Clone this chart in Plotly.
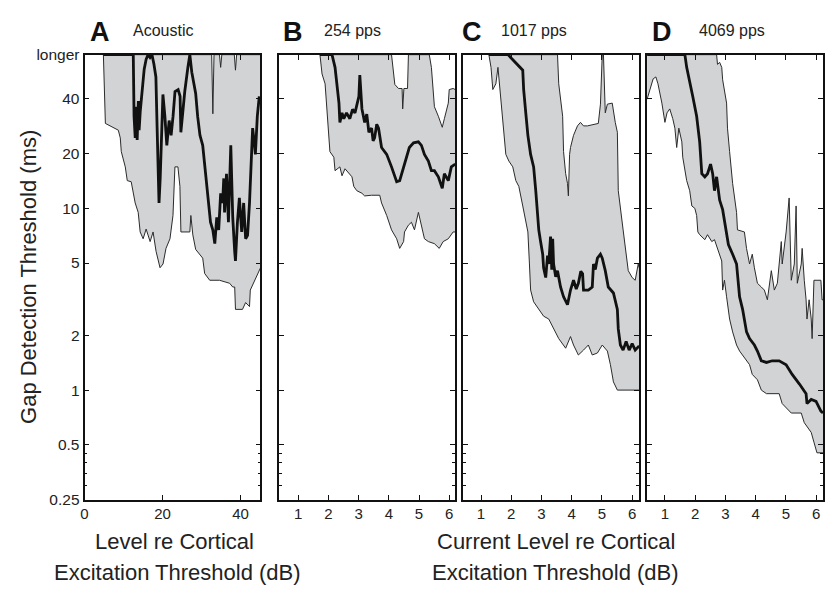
import plotly.graph_objects as go

# ---------------- data (gap detection threshold, ms; "longer" plotted at 70) ----------------
Y_TICKVALS = [0.25, 0.5, 1, 2, 5, 10, 20, 40, 70]
Y_TICKTEXT = ["0.25", "0.5", "1", "2", "5", "10", "20", "40", "longer"]
Y_MINOR = [0.3, 0.35, 0.4, 0.45]

# Panel A: Acoustic (dB re cortical excitation threshold)
A_lower_x = [4.84, 5.35, 8.66, 9.17, 9.43, 10.45, 10.96, 11.97, 12.99, 13.76, 14.27, 15.03, 15.80, 16.82,
             17.58, 18.34, 19.36, 20.13, 20.89, 21.91, 22.68, 23.18, 23.95, 24.46, 24.71, 27.0, 27.26, 27.77,
             28.5, 30.3, 30.8, 32.1, 34.6, 37.2, 38.0, 38.5, 38.7, 40.5, 41.3, 42.3, 42.5, 43.6, 44.8, 45.1]
A_lower_y = [70, 29.3, 26.9, 24.4, 20.5, 16.9, 14.2, 14.0, 10.7, 9.5, 7.41, 6.8, 7.69, 6.56,
             7.41, 5.80, 4.71, 4.94, 6.02, 6.8, 9.13, 16.9, 16.9, 13.2, 7.41, 7.41, 9.13, 7.14,
             5.94, 5.32, 4.38, 4.02, 4.02, 3.87, 3.69, 3.69, 2.78, 2.78, 3.03, 2.88, 3.55, 4.02, 4.65, 4.7]
A_upper_x = [4.84, 32.6, 32.9, 33.2, 34.6, 34.9, 35.2, 38.4, 38.7, 39.0, 45.1]
A_upper_y = [70, 70, 33.1, 70, 70, 59.6, 70, 70, 57.5, 70, 70]
A_med_x = [4.84, 12.5, 12.7, 13.0, 13.2, 13.5, 13.8, 14.0, 14.3, 14.8, 15.3, 15.8, 16.3, 16.8, 17.3, 17.8,
           18.3, 18.6, 18.9, 19.1, 19.4, 19.9, 20.1, 20.6, 21.1, 21.7, 22.2, 22.7, 23.2, 24.0, 24.5, 24.7,
           25.2, 25.7, 26.5, 27.0, 27.5, 28.0, 28.5, 29.0, 29.6, 30.3, 30.8, 31.3, 31.8, 32.3, 32.9, 33.4,
           33.9, 34.4, 34.9, 35.4, 35.7, 35.9, 36.4, 36.9, 37.5, 38.0, 38.5, 38.7, 39.2, 39.7, 40.3, 40.8,
           41.3, 41.8, 42.3, 42.8, 43.1, 43.6, 43.8, 44.3, 44.8]
A_med_y = [70, 70, 32.1, 24.4, 36.2, 23.8, 38.9, 26.9, 34.4, 46.7, 58.2, 66, 70, 67.5, 70, 62,
           52.8, 28.4, 17.5, 10.7, 14.6, 28.4, 42.3, 32.1, 22.2, 30.4, 25.2, 32.1, 43.9, 45.0, 41.3, 26.2,
           34.4, 43.9, 59.6, 70, 56.1, 49.6, 42.8, 32.1, 25.2, 22.2, 17.5, 12.9, 10.0, 8.38, 7.6, 6.4,
           8.91, 7.6, 12.1, 10.7, 14.6, 9.5, 15.5, 8.38, 22.2, 8.91, 5.80, 5.13, 8.38, 11.4, 7.41, 10.7,
           6.8, 7.1, 10.7, 19.8, 27.6, 22.2, 19.8, 32.1, 41.3]

# Panel B: 254 pps (current level, dB)
B_lower_x = [1.72, 1.79, 1.89, 2.05, 2.18, 2.22, 2.38, 2.45, 2.55, 2.78, 2.84, 2.94, 3.11, 3.20, 3.43, 3.70,
             3.76, 3.93, 4.09, 4.26, 4.36, 4.49, 4.52, 4.65, 4.75, 4.85, 4.98, 5.08, 5.18, 5.31, 5.51, 5.67,
             5.80, 5.97, 6.13, 6.20]
B_lower_y = [70, 54.8, 48.4, 20.5, 19.1, 16.1, 16.9, 15.1, 16.5, 14.9, 13.2, 12.5, 12.1, 11.7, 11.8, 11.8,
             10.7, 9.13, 7.61, 6.8, 6.02, 6.56, 7.41, 8.08, 8.38, 7.61, 9.5, 8.08, 6.8, 6.56, 6.39, 6.02,
             6.56, 6.8, 7.41, 7.41]
B_upper_x = [1.72, 4.09, 4.20, 4.32, 4.44, 4.46, 4.50, 4.62, 4.65, 5.34, 5.41, 5.51, 5.64, 5.77, 5.84, 5.97,
             6.00, 6.13, 6.20]
B_upper_y = [70, 70, 48, 45.6, 45.6, 35.2, 45.6, 45.6, 70, 70, 59.6, 36.2, 32.1, 27.9, 31.1, 37.9,
             45.0, 45.6, 45.0]
B_med_x = [1.72, 2.12, 2.22, 2.35, 2.38, 2.45, 2.51, 2.60, 2.71, 2.80, 2.88, 3.01, 3.04, 3.11, 3.20, 3.27,
           3.34, 3.43, 3.48, 3.53, 3.60, 3.66, 3.76, 3.93, 4.09, 4.26, 4.36, 4.52, 4.68, 4.82, 4.98, 5.08,
           5.18, 5.31, 5.41, 5.51, 5.64, 5.77, 5.84, 5.97, 6.07, 6.20]
B_med_y = [70, 70, 59.6, 37.9, 29.7, 33.5, 31.1, 33.5, 31.1, 35.0, 33.5, 41.3, 54.0, 35.2, 29.7, 33.0,
           26.2, 27.6, 23.5, 24.4, 29.0, 27.6, 21.6, 19.8, 16.9, 14.0, 14.2, 17.5, 21.6, 22.9, 23.2, 22.2,
           19.8, 18.2, 16.1, 16.1, 14.9, 12.9, 15.5, 14.2, 16.9, 17.5]

# Panel C: 1017 pps
C_lower_x = [1.26, 1.33, 1.39, 1.49, 1.56, 1.59, 1.66, 1.72, 1.82, 1.92, 2.05, 2.15, 2.25, 2.38, 2.48, 2.55,
             2.60, 2.64, 2.74, 2.91, 3.07, 3.24, 3.40, 3.57, 3.80, 3.96, 4.06, 4.22, 4.39, 4.55, 4.68, 4.85,
             5.01, 5.18, 5.28, 5.38, 5.51, 6.23]
C_lower_y = [70, 59.6, 45.0, 48.4, 59.6, 52.8, 39.8, 29.7, 19.8, 18.2, 16.9, 14.2, 13.2, 10.3, 8.70, 7.41,
             5.0, 3.55, 3.06, 2.78, 2.55, 2.46, 2.17, 1.92, 1.70, 1.97, 1.77, 1.56, 1.66, 1.77, 1.56, 1.60,
             1.77, 1.64, 1.38, 1.11, 1.00, 1.00]
C_upper_x = [1.26, 3.53, 3.57, 3.70, 3.73, 3.80, 3.86, 3.89, 3.93, 3.96, 4.06, 4.19, 4.29, 4.39, 4.52, 4.88,
             4.95, 5.01, 5.05, 5.11, 5.18, 5.34, 5.44, 5.51, 5.54, 5.67, 5.70, 5.87, 6.00, 6.10, 6.20, 6.23]
C_upper_y = [70, 70, 48.4, 32.1, 20.5, 15.5, 13.7, 11.7, 19.8, 21.6, 25.2, 28.4, 29.7, 28.4, 28.4, 29.3,
             37.4, 70, 70, 33.5, 37.4, 37.9, 29.7, 26.2, 12.5, 8.08, 7.61, 4.54, 4.16, 4.02, 4.94, 4.71]
C_med_x = [1.26, 1.89, 2.38, 2.41, 2.48, 2.55, 2.64, 2.74, 2.81, 2.88, 2.91, 2.97, 3.04, 3.07, 3.14, 3.20,
           3.24, 3.30, 3.34, 3.37, 3.40, 3.47, 3.53, 3.63, 3.73, 3.86, 3.96, 4.06, 4.15, 4.22, 4.30, 4.36,
           4.39, 4.55, 4.68, 4.72, 4.78, 4.85, 4.95, 5.01, 5.11, 5.21, 5.38, 5.51, 5.54, 5.61, 5.70, 5.80,
           5.90, 6.00, 6.10, 6.23]
C_med_y = [70, 70, 57.5, 45.0, 33.5, 25.2, 19.8, 16.9, 12.5, 9.13, 7.61, 6.56, 5.59, 4.71, 4.16, 5.5,
           4.94, 7.0, 4.6, 6.8, 4.94, 4.2, 4.54, 3.69, 3.26, 2.95, 3.55, 4.02, 3.6, 3.87, 4.5, 4.37,
           3.55, 3.55, 3.69, 4.94, 4.6, 5.32, 5.59, 5.32, 4.54, 3.69, 3.42, 2.78, 2.17, 1.77, 1.66, 1.85,
           1.66, 1.80, 1.66, 1.75]

# Panel D: 4069 pps
D_lower_x = [0.41, 0.51, 0.61, 0.70, 0.77, 0.90, 1.00, 1.07, 1.16, 1.26, 1.33, 1.39, 1.46, 1.56, 1.59, 1.72,
             1.82, 1.89, 1.99, 2.05, 2.09, 2.15, 2.32, 2.41, 2.55, 2.64, 2.74, 2.88, 2.91, 2.97, 3.04, 3.14,
             3.24, 3.37, 3.47, 3.63, 3.80, 3.89, 4.06, 4.19, 4.36, 4.78, 4.88, 5.18, 5.51, 5.61, 5.84, 5.93,
             6.03, 6.23]
D_lower_y = [39.8, 45.0, 51.5, 52.8, 48.4, 37.9, 29.7, 33.5, 35.2, 31.1, 27.6, 21.6, 27.6, 23.2, 19.1, 14.2,
             12.5, 10.3, 10.0, 9.13, 7.41, 7.16, 6.72, 7.16, 6.56, 6.72, 6.02, 5.13, 3.55, 4.02, 3.26, 2.46,
             2.09, 1.77, 1.64, 1.50, 1.38, 1.22, 1.14, 1.00, 0.956, 0.956, 0.843, 0.748, 0.748, 0.662, 0.585, 0.517,
             0.452, 0.452]
D_upper_x = [0.41, 2.71, 2.74, 2.81, 2.88, 2.91, 3.04, 3.07, 3.14, 3.24, 3.37, 3.40, 3.63, 3.70, 3.80, 3.89,
             3.96, 4.06, 4.19, 4.29, 4.39, 4.52, 4.62, 4.72, 4.85, 4.88, 5.01, 5.11, 5.18, 5.28, 5.34, 5.38,
             5.51, 5.54, 5.61, 5.67, 5.70, 5.77, 5.84, 5.87, 5.93, 6.16, 6.20, 6.23]
D_upper_y = [70, 70, 61.9, 63.5, 59.6, 50.9, 37.9, 27.6, 20.5, 13.7, 9.5, 7.61, 7.41, 6.02, 4.94, 5.59,
             4.71, 3.87, 3.69, 3.55, 3.14, 4.54, 3.55, 3.87, 6.56, 4.94, 7.41, 11.4, 4.02, 4.94, 10.3, 3.87,
             4.94, 6.02, 4.02, 3.14, 2.46, 3.14, 2.46, 1.92, 4.02, 4.02, 3.14, 3.14]
D_med_x = [0.41, 1.66, 1.72, 1.82, 1.92, 2.05, 2.15, 2.22, 2.32, 2.41, 2.51, 2.58, 2.64, 2.71, 2.81, 2.91,
           2.97, 3.04, 3.10, 3.24, 3.37, 3.47, 3.57, 3.70, 3.80, 3.96, 4.06, 4.19, 4.36, 4.55, 4.78, 5.01,
           5.21, 5.45, 5.67, 5.70, 5.84, 6.00, 6.16, 6.23]
D_med_y = [70, 70, 59.6, 48.4, 41.3, 32.1, 23.2, 15.5, 14.9, 15.5, 17.5, 15.5, 12.5, 14.9, 11.1, 9.83,
           8.38, 7.41, 6.32, 5.59, 4.94, 3.26, 2.78, 2.09, 1.92, 1.77, 1.64, 1.45, 1.42, 1.45, 1.45, 1.38,
           1.22, 1.08, 0.956, 0.843, 0.888, 0.867, 0.767, 0.748]

PANEL_LETTERS = ["A", "B", "C", "D"]
PANEL_TITLES = ["Acoustic", "254 pps", "1017 pps", "4069 pps"]
X_TICKS_A = [0, 20, 40]
X_TICKS_CI = [1, 2, 3, 4, 5, 6]

panels = [
    (A_lower_x, A_lower_y, A_upper_x, A_upper_y, A_med_x, A_med_y),
    (B_lower_x, B_lower_y, B_upper_x, B_upper_y, B_med_x, B_med_y),
    (C_lower_x, C_lower_y, C_upper_x, C_upper_y, C_med_x, C_med_y),
    (D_lower_x, D_lower_y, D_upper_x, D_upper_y, D_med_x, D_med_y),
]

# ---------------- layout geometry ----------------
W, H = 825, 595
x_dom_px = [(81, 258), (277, 454), (462, 639), (647, 824)]
x_ranges = [[0, 45.1], [0.375, 6.2], [0.41, 6.23], [0.41, 6.23]]
y_dom = [1 - 505 / H, 1 - 47 / H]

FILL = "#d1d3d4"
EDGE = "#2b2b2b"
FONT = "Liberation Sans, Arial, Helvetica, sans-serif"

fig = go.Figure()
for i, (lx, ly, ux, uy, mx, my) in enumerate(panels):
    xa = "x" if i == 0 else f"x{i+1}"
    ya = "y" if i == 0 else f"y{i+1}"
    fig.add_trace(go.Scatter(x=list(lx) + list(ux)[::-1], y=list(ly) + list(uy)[::-1],
                             fill="toself", fillcolor=FILL, mode="lines", line=dict(width=0),
                             xaxis=xa, yaxis=ya, hoverinfo="skip", showlegend=False))
    for xs, ys in ((lx, ly), (ux, uy)):
        fig.add_trace(go.Scatter(x=xs, y=ys, mode="lines", line=dict(color=EDGE, width=1),
                                 xaxis=xa, yaxis=ya, hoverinfo="skip", showlegend=False))
    fig.add_trace(go.Scatter(x=mx, y=my, mode="lines", line=dict(color="#111111", width=2.8),
                             xaxis=xa, yaxis=ya, hoverinfo="skip", showlegend=False))

layout = dict(width=W, height=H, margin=dict(l=0, r=0, t=0, b=0),
              paper_bgcolor="white", plot_bgcolor="white", showlegend=False,
              font=dict(family=FONT, color="#222"))
for i in range(4):
    xk = "xaxis" if i == 0 else f"xaxis{i+1}"
    yk = "yaxis" if i == 0 else f"yaxis{i+1}"
    xa = "x" if i == 0 else f"x{i+1}"
    ya = "y" if i == 0 else f"y{i+1}"
    tv = X_TICKS_A if i == 0 else X_TICKS_CI
    layout[xk] = dict(domain=[x_dom_px[i][0] / W, x_dom_px[i][1] / W], range=x_ranges[i], anchor=ya,
                      showgrid=False, zeroline=False, showline=True, linecolor="#111", linewidth=1.8,
                      mirror="ticks", ticks="inside", ticklen=5, tickwidth=1, tickcolor="#111",
                      tickvals=tv, ticktext=[str(v) for v in tv],
                      tickfont=dict(size=15, family=FONT, color="#222"))
    layout[yk] = dict(domain=y_dom, type="log", range=[-0.60206, 1.8451], anchor=xa,
                      showgrid=False, zeroline=False, showline=True, linecolor="#111", linewidth=1.8,
                      mirror="ticks", ticks="inside", ticklen=5, tickwidth=1, tickcolor="#111",
                      tickvals=Y_TICKVALS, ticktext=Y_TICKTEXT, showticklabels=(i == 0),
                      tickfont=dict(size=15.5, family=FONT, color="#222"),
                      minor=dict(tickvals=Y_MINOR, ticks="inside", ticklen=3, tickcolor="#111"))
fig.update_layout(**layout)

ann = []
letter_px = [97, 291, 471, 662]
title_px = [128, 320, 498, 697]
for i in range(4):
    ann.append(dict(x=letter_px[i] / W, y=1 - 24 / H, xref="paper", yref="paper", text=f"<b>{PANEL_LETTERS[i]}</b>",
                    showarrow=False, xanchor="center", yanchor="middle", font=dict(size=27, family=FONT, color="#111")))
    ann.append(dict(x=title_px[i] / W, y=1 - 22 / H, xref="paper", yref="paper", text=PANEL_TITLES[i],
                    showarrow=False, xanchor="left", yanchor="middle", font=dict(size=16, family=FONT, color="#222")))
ann.append(dict(x=24 / W, y=1 - 276 / H, xref="paper", yref="paper", text="Gap Detection Threshold (ms)",
                textangle=-90, showarrow=False, xanchor="center", yanchor="middle",
                font=dict(size=22, family=FONT, color="#222")))
for txt, cx, cy in (("Level re Cortical", 172, 548), ("Excitation Threshold (dB)", 175, 580),
                    ("Current Level re Cortical", 555, 548), ("Excitation Threshold (dB)", 555, 580)):
    ann.append(dict(x=cx / W, y=1 - cy / H, xref="paper", yref="paper", text=txt, showarrow=False,
                    xanchor="center", yanchor="middle", font=dict(size=22, family=FONT, color="#222")))
fig.update_layout(annotations=ann)

fig.write_html("out.html")
